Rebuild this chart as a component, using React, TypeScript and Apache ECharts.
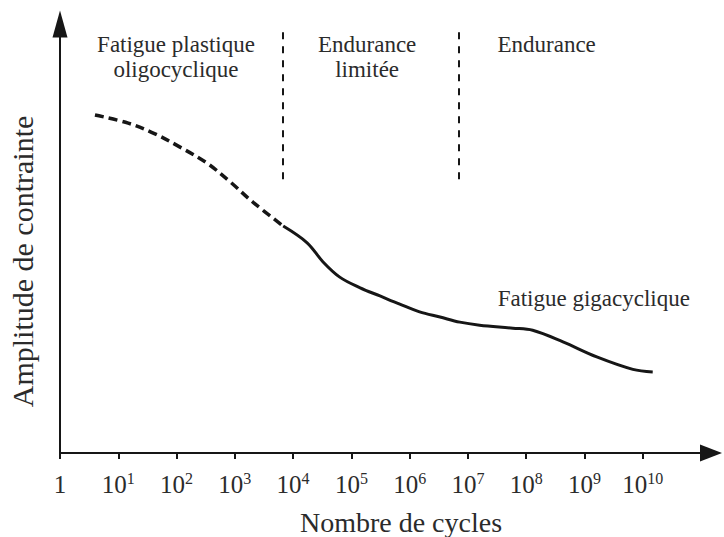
import React, { useEffect, useRef } from "react";
import * as echarts from "echarts";

// x values are exponents: N = 10^x cycles; y is the stress amplitude (arbitrary units, 0..100)
const tickExponents = [0, 1, 2, 3, 4, 5, 6, 7, 8, 9, 10];

const lowCycleExp = [0.6, 1.17, 1.63, 2.06, 2.52, 2.92, 3.29, 3.83];
const lowCycleAmp = [78.8, 76.9, 74.4, 71.3, 67.6, 63.2, 58.7, 52.9];

const highCycleExp = [3.83, 4.24, 4.51, 4.8, 5.15, 5.49, 5.83, 6.17, 6.52, 6.86, 7.2, 7.77, 8.11, 8.63, 9.21, 9.83, 10.17];
const highCycleAmp = [52.9, 49.0, 44.6, 41.0, 38.5, 36.6, 34.7, 32.9, 31.7, 30.5, 29.8, 29.1, 28.6, 25.9, 22.4, 19.5, 18.9];

const regionBoundaries = [3.83, 6.84];
const boundaryRange = [62.2, 98.1];

const annotationTexts = ["Fatigue plastique\noligocyclique", "Endurance\nlimitée", "Endurance", "Fatigue gigacyclique"];
const annotationExp = [1.99, 5.27, 8.35, 9.16];
const annotationAmp = [92.2, 92.4, 95.3, 35.9];

const xAxisTitle = "Nombre de cycles";
const yAxisTitle = "Amplitude de contrainte";

const FONT = "Liberation Serif";
const INK = "#161616";
const TEXT = "#2b2b2b";

export default function App() {
  const ref = useRef<HTMLDivElement>(null);

  useEffect(() => {
    if (!ref.current) return;
    const chart = echarts.init(ref.current, null, { renderer: "svg" });
    const option: any = {
      animation: false,
      backgroundColor: "#ffffff",
      textStyle: { fontFamily: FONT },
      grid: { left: 60, right: 13, top: 24, bottom: 84, containLabel: false, outerBoundsMode: "none" },
      xAxis: {
        type: "value",
        min: 0,
        max: 11.17,
        interval: 1,
        name: xAxisTitle,
        nameLocation: "middle",
        nameGap: 55,
        nameTextStyle: { fontFamily: FONT, fontSize: 28, color: TEXT, padding: [0, 0, 0, 31] },
        axisLine: {
          show: true,
          symbol: ["none", "triangle"],
          symbolSize: [17, 22],
          lineStyle: { color: INK, width: 2 },
        },
        axisTick: {
          show: true,
          length: 6,
          customValues: tickExponents,
          lineStyle: { color: INK, width: 2 },
        },
        axisLabel: {
          show: true,
          margin: 17,
          customValues: tickExponents,
          fontFamily: FONT,
          color: TEXT,
          formatter: (v: number) => (v === 0 ? "{b|1}" : `{b|10}{s|${v}}`),
          rich: {
            b: { fontFamily: FONT, fontSize: 25, lineHeight: 28, color: TEXT },
            s: { fontFamily: FONT, fontSize: 16, lineHeight: 16, verticalAlign: "top", color: TEXT },
          },
        },
        splitLine: { show: false },
      },
      yAxis: {
        type: "value",
        min: 0,
        max: 100,
        name: yAxisTitle,
        nameLocation: "middle",
        nameGap: 23,
        nameTextStyle: { fontFamily: FONT, fontSize: 30, color: TEXT, padding: [0, 46, 0, 0] },
        axisLine: {
          show: true,
          symbol: ["none", "triangle"],
          symbolSize: [15, 27],
          lineStyle: { color: INK, width: 2 },
        },
        axisTick: { show: false },
        axisLabel: { show: false },
        splitLine: { show: false },
      },
      series: [
        {
          type: "line",
          name: "oligocyclique",
          data: lowCycleExp.map((x, i) => [x, lowCycleAmp[i]]),
          smooth: 0.35,
          symbol: "none",
          lineStyle: { color: INK, width: 3.5, type: [9, 5] },
          silent: true,
        },
        {
          type: "line",
          name: "endurance",
          data: highCycleExp.map((x, i) => [x, highCycleAmp[i]]),
          smooth: 0.35,
          symbol: "none",
          lineStyle: { color: INK, width: 3 },
          silent: true,
          markLine: {
            silent: true,
            symbol: ["none", "none"],
            label: { show: false },
            lineStyle: { color: INK, width: 2, type: [7, 7] },
            data: regionBoundaries.map((x) => [
              { coord: [x, boundaryRange[1]] },
              { coord: [x, boundaryRange[0]] },
            ]),
          },
        },
      ],
    };
    chart.setOption(option);

    const graphics = annotationTexts.map((t, i) => {
      const [px, py] = chart.convertToPixel({ gridIndex: 0 }, [annotationExp[i], annotationAmp[i]]) as number[];
      return {
        type: "text",
        x: px,
        y: py,
        silent: true,
        style: {
          text: t,
          fontFamily: FONT,
          fontSize: 23,
          lineHeight: 25,
          fill: TEXT,
          align: "center",
          verticalAlign: "middle",
        },
      };
    });
    chart.setOption({ graphic: graphics });

    return () => chart.dispose();
  }, []);

  return <div ref={ref} style={{ width: 724, height: 537, position: "absolute", left: 0, top: 0 }} />;
}
